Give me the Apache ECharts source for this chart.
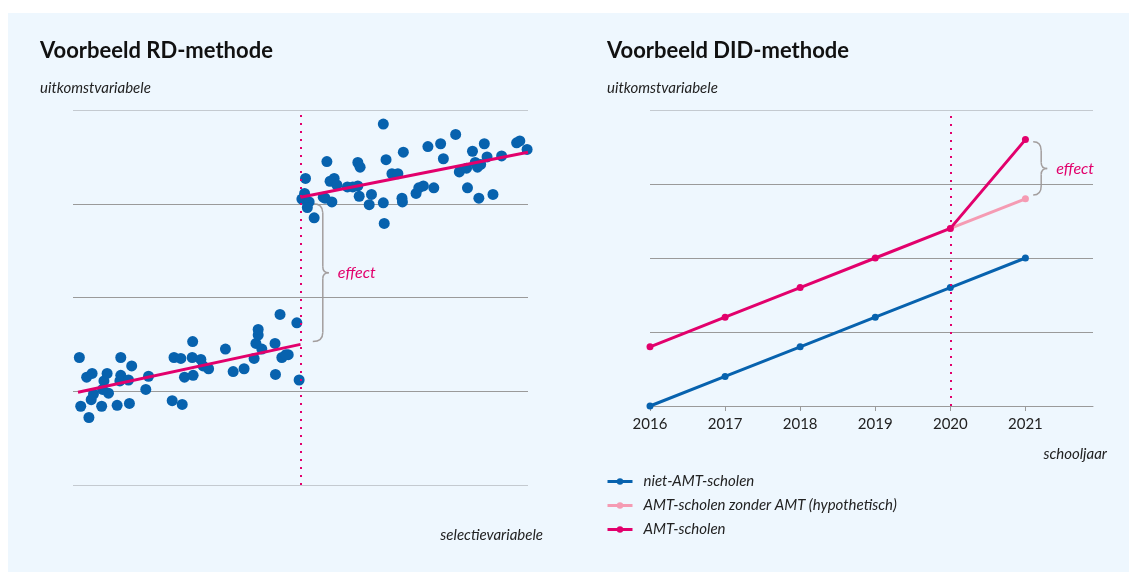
<!DOCTYPE html>
<html>
<head>
<meta charset="utf-8">
<script src="https://cdn.jsdelivr.net/npm/echarts@6/dist/echarts.min.js"></script>
<style>
  html, body { margin: 0; padding: 0; background: #fff; }
  #chart { width: 1129px; height: 572px; }
</style>
</head>
<body>
<div id="chart"></div>
<script>
// RD: selectievariabele (0-100) vs uitkomstvariabele (0-4), cutoff at 50
const rdBelow = [
  [1.4, 1.36], [3.0, 1.15], [4.2, 1.19], [1.7, 0.84], [3.5, 0.72], [4.0, 0.91],
  [4.5, 0.97], [6.8, 1.11], [7.5, 1.19], [6.3, 0.84], [7.8, 0.98], [6.5, 1.02],
  [10.5, 1.36], [10.5, 1.17], [10.3, 1.11], [12.2, 1.12], [12.9, 1.27], [9.7, 0.85],
  [12.4, 0.87], [16.0, 1.02], [16.6, 1.16], [21.8, 0.90], [24.0, 0.86], [22.2, 1.36],
  [23.7, 1.35], [26.3, 1.53], [26.2, 1.36], [28.1, 1.34], [28.6, 1.27], [29.8, 1.24],
  [24.5, 1.15], [26.4, 1.17], [33.5, 1.45], [35.2, 1.21], [37.6, 1.24], [39.8, 1.35],
  [40.2, 1.51], [40.7, 1.60], [40.7, 1.66], [41.5, 1.45], [44.4, 1.51], [44.5, 1.18],
  [45.5, 1.82], [45.9, 1.36], [47.3, 1.39], [46.8, 1.39], [49.2, 1.73], [49.7, 1.12]
];
const rdAbove = [
  [51.1, 3.27], [50.9, 3.11], [50.3, 3.05], [51.9, 3.02], [51.5, 2.96], [53.0, 2.85],
  [55.8, 3.45], [57.4, 3.27], [56.5, 3.24], [58.0, 3.20], [55.0, 3.07], [55.4, 3.06],
  [56.9, 3.02], [60.3, 3.18], [61.5, 3.18], [62.6, 3.44], [63.1, 3.39], [62.6, 3.19],
  [62.9, 3.08], [65.1, 2.99], [65.6, 3.10], [68.2, 3.85], [68.8, 3.47], [70.1, 3.32],
  [71.4, 3.32], [68.2, 3.01], [68.4, 2.79], [72.6, 3.55], [72.3, 3.06], [72.4, 3.02],
  [75.4, 3.11], [76.0, 3.17], [77.0, 3.19], [78.0, 3.61], [79.3, 3.17], [80.8, 3.64],
  [81.4, 3.48], [84.1, 3.74], [84.9, 3.34], [86.5, 3.38], [86.7, 3.17], [87.8, 3.56],
  [88.4, 3.44], [88.9, 3.39], [89.6, 3.42], [90.4, 3.64], [91.0, 3.50], [89.2, 3.06],
  [92.3, 3.10], [94.2, 3.51], [97.5, 3.65], [98.2, 3.67], [99.8, 3.58]
];
const rdFitBelow = [[1.1, 0.99], [50, 1.50]];
const rdFitAbove = [[50, 3.07], [100, 3.55]];
const rdCutoff = 50;

// DID
const years = [2016, 2017, 2018, 2019, 2020, 2021];
const nietAMT = [0, 0.4, 0.8, 1.2, 1.6, 2.0];
const amtZonder = [null, null, null, null, 2.4, 2.8];
const amtScholen = [0.8, 1.2, 1.6, 2.0, 2.4, 3.6];
const didCutoff = 2020;

const BLUE = "#0762ae";
const PINK = "#e2006c";
const LIGHTPINK = "#f59bb3";
const GRID_DARK = "#9a9a9a";
const GRID_LIGHT = "#c4cad0";
const BRACE = "#a39e9e";
const FONT = "Lato";

function pairs(xs, ys) {
  return xs.map((x, i) => [x, ys[i]]).filter(p => p[1] !== null);
}

const myChart = echarts.init(document.getElementById("chart"));

const dotted = {
  silent: true,
  symbol: ["none", "none"],
  label: { show: false },
  lineStyle: { color: PINK, type: [2, 6], width: 2 }
};

const italic = { fontFamily: FONT, fontSize: 15, fontStyle: "italic", fontWeight: "normal", color: "#222" };
const bold = { fontFamily: FONT, fontSize: 22, fontWeight: "bold", color: "#111" };

const option = {
  backgroundColor: "#fff",
  animation: false,
  textStyle: { fontFamily: FONT },
  graphic: [
    { type: "rect", z: -10, shape: { x: 8, y: 13, width: 1121, height: 559 }, style: { fill: "#eef7fe" } }
  ],
  title: [
    { text: "Voorbeeld RD-methode", left: 35, top: 35, textStyle: bold },
    { text: "uitkomstvariabele", left: 35, top: 76, textStyle: italic },
    { text: "selectievariabele", right: 1129 - 548, top: 523, textStyle: italic },
    { text: "Voorbeeld DID-methode", left: 602, top: 35, textStyle: bold },
    { text: "uitkomstvariabele", left: 602, top: 76, textStyle: italic },
    { text: "schooljaar", right: 1129 - 1112, top: 442, textStyle: italic }
  ],
  legend: {
    left: 601,
    top: 469,
    orient: "vertical",
    itemWidth: 25,
    itemHeight: 8,
    itemGap: 9,
    lineStyle: { width: 3 },
    data: ["niet-AMT-scholen", "AMT-scholen zonder AMT (hypothetisch)", "AMT-scholen"],
    textStyle: Object.assign({ padding: [0, 0, 0, 6] }, italic)
  },
  grid: [
    { left: 73, right: 1129 - 528, top: 110, bottom: 572 - 485 },
    { left: 650, right: 1129 - 1093, top: 110, bottom: 572 - 406 }
  ],
  xAxis: [
    {
      gridIndex: 0, type: "value", min: 0, max: 100,
      axisLine: { show: false }, axisTick: { show: false }, axisLabel: { show: false }, splitLine: { show: false }
    },
    {
      gridIndex: 1, type: "value", min: 2016, max: 2021.9, interval: 1,
      axisLine: { show: true, lineStyle: { color: GRID_DARK, width: 1 } },
      axisTick: { show: true, customValues: years, length: 5, lineStyle: { color: GRID_DARK } },
      axisLabel: {
        customValues: years, margin: 11, fontFamily: FONT, fontSize: 15, color: "#222",
        formatter: v => String(v)
      },
      splitLine: { show: false }
    }
  ],
  yAxis: [
    {
      gridIndex: 0, type: "value", min: 0, max: 4, interval: 1,
      axisLine: { show: false }, axisTick: { show: false }, axisLabel: { show: false },
      splitLine: { show: true, lineStyle: { color: [GRID_LIGHT, GRID_DARK, GRID_DARK, GRID_DARK, GRID_LIGHT], width: 1 } }
    },
    {
      gridIndex: 1, type: "value", min: 0, max: 4, interval: 1,
      axisLine: { show: false }, axisTick: { show: false }, axisLabel: { show: false },
      splitLine: { show: true, lineStyle: { color: [GRID_DARK, GRID_DARK, GRID_DARK, GRID_DARK, GRID_LIGHT], width: 1 } }
    }
  ],
  series: [
    // RD chart
    {
      type: "line", xAxisIndex: 0, yAxisIndex: 0, data: [], z: 1,
      markLine: Object.assign({ data: [{ xAxis: rdCutoff }] }, dotted)
    },
    {
      type: "scatter", xAxisIndex: 0, yAxisIndex: 0, data: rdBelow.concat(rdAbove),
      symbolSize: 11, itemStyle: { color: BLUE, opacity: 1 }, z: 2, clip: false
    },
    {
      type: "line", xAxisIndex: 0, yAxisIndex: 0, data: rdFitBelow, showSymbol: false,
      lineStyle: { color: PINK, width: 3 }, z: 3
    },
    {
      type: "line", xAxisIndex: 0, yAxisIndex: 0, data: rdFitAbove, showSymbol: false,
      lineStyle: { color: PINK, width: 3 }, z: 3
    },
    // DID chart
    {
      type: "line", xAxisIndex: 1, yAxisIndex: 1, data: [], z: 1,
      markLine: Object.assign({ data: [{ xAxis: didCutoff }] }, dotted)
    },
    {
      name: "niet-AMT-scholen", type: "line", xAxisIndex: 1, yAxisIndex: 1,
      data: pairs(years, nietAMT), symbol: "circle", symbolSize: 7, clip: false,
      lineStyle: { color: BLUE, width: 3 }, itemStyle: { color: BLUE }, z: 3
    },
    {
      name: "AMT-scholen zonder AMT (hypothetisch)", type: "line", xAxisIndex: 1, yAxisIndex: 1,
      data: pairs(years, amtZonder), symbol: "circle", symbolSize: 7, clip: false,
      lineStyle: { color: LIGHTPINK, width: 3 }, itemStyle: { color: LIGHTPINK }, z: 3
    },
    {
      name: "AMT-scholen", type: "line", xAxisIndex: 1, yAxisIndex: 1,
      data: pairs(years, amtScholen), symbol: "circle", symbolSize: 7, clip: false,
      lineStyle: { color: PINK, width: 3 }, itemStyle: { color: PINK }, z: 4
    }
  ]
};

myChart.setOption(option);

// curly braces with "effect" label, positioned through the axes
function brace(gridIndex, xv, yTop, yBot, hook) {
  const top = myChart.convertToPixel({ gridIndex: gridIndex }, [xv, yTop]);
  const bot = myChart.convertToPixel({ gridIndex: gridIndex }, [xv, yBot]);
  const x = top[0], t = top[1], b = bot[1], m = (t + b) / 2;
  const r = 6;
  const style = { stroke: BRACE, lineWidth: 1.5, fill: "none" };
  return [
    { type: "bezierCurve", shape: { x1: x - hook, y1: t, cpx1: x, cpy1: t, x2: x, y2: t + r * 1.5 }, style: style },
    { type: "line", shape: { x1: x, y1: t + r * 1.5, x2: x, y2: m - r }, style: style },
    { type: "bezierCurve", shape: { x1: x, y1: m - r, cpx1: x, cpy1: m, x2: x + r, y2: m }, style: style },
    { type: "bezierCurve", shape: { x1: x + r, y1: m, cpx1: x, cpy1: m, x2: x, y2: m + r }, style: style },
    { type: "line", shape: { x1: x, y1: m + r, x2: x, y2: b - r * 1.5 }, style: style },
    { type: "bezierCurve", shape: { x1: x, y1: b - r * 1.5, cpx1: x, cpy1: b, x2: x - hook, y2: b }, style: style },
    {
      type: "text", x: x + r + 9, y: m, style: {
        text: "effect", fill: PINK, font: "italic 16px " + FONT, textVerticalAlign: "middle"
      }
    }
  ];
}

const extra = option.graphic
  .concat(brace(0, 54.9, 3.0, 1.53, 10))
  .concat(brace(1, 2021.21, 3.57, 2.85, 8));
myChart.setOption({ graphic: extra });

window.addEventListener("resize", () => myChart.resize());
</script>
</body>
</html>
